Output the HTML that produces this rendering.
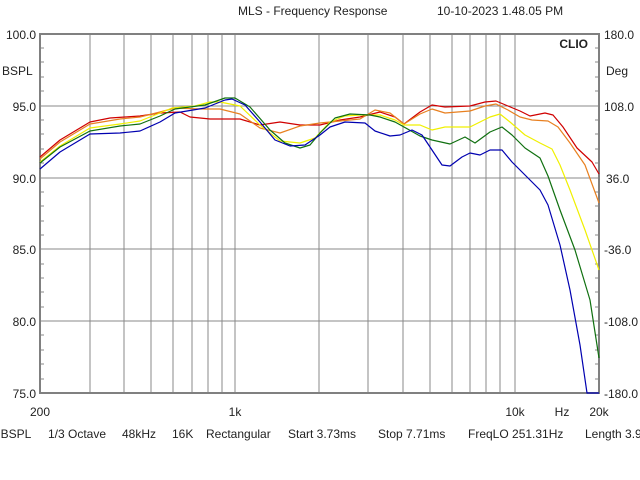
<!DOCTYPE html>
<html><head><style>body{margin:0;background:#fff}svg{display:block}text{font-family:"Liberation Sans",sans-serif;font-size:12px;fill:#222}</style></head><body>
<svg width="640" height="480" viewBox="0 0 640 480">
<g stroke="#888" stroke-width="1">
<path d="M90 34V393M124 34V393M151 34V393M173 34V393M192 34V393M208 34V393M222 34V393M235 34V393M319 34V393M368 34V393M403 34V393M430 34V393M452 34V393M470 34V393M486 34V393M500 34V393M515 34V393M40 106H599M40 178H599M40 249H599M40 321H599"/>
</g>
<g stroke="#888" stroke-width="1">
<path d="M40 48H44M40 62H44M40 77H44M40 91H44M40 120H44M40 134H44M40 149H44M40 163H44M40 192H44M40 206H44M40 221H44M40 235H44M40 264H44M40 278H44M40 292H44M40 307H44M40 335H44M40 350H44M40 364H44M40 379H44"/>
<path d="M595 48H599M595 62H599M595 77H599M595 91H599M595 120H599M595 134H599M595 149H599M595 163H599M595 192H599M595 206H599M595 221H599M595 235H599M595 264H599M595 278H599M595 292H599M595 307H599M595 335H599M595 350H599M595 364H599M595 379H599"/>
</g>
<rect x="40" y="34" width="559" height="359" fill="none" stroke="#808080" stroke-width="2"/>
<g fill="none" stroke-width="1.2" stroke-linejoin="round">
<polyline stroke="#d00000" points="40,157 60,140 90,122 110,118 125,117 140,116 160,113 180,112 190,117 210,119 240,119 260,125 280,122 300,125 320,125 340,120 360,117 380,112 395,117 404,124 420,112 432,105 445,107 470,106 485,102 496,101 508,106 520,111 530,116 545,113 553,115 563,127 577,148 592,162 599,174"/>
<polyline stroke="#e88020" points="40,159 60,142 90,124 120,119 140,117 160,112 175,108 200,109 220,109 240,114 260,128 280,133 300,126 320,123 340,121 360,119 375,110 390,113 404,124 420,114 432,109 445,113 470,111 485,106 496,104 508,110 520,117 532,120 548,121 558,127 570,143 585,165 599,203"/>
<polyline stroke="#f0f000" points="40,162 60,146 90,128 120,124 140,121 160,113 172,108 195,106 210,102 220,102 240,106 260,125 280,141 300,143 315,138 330,122 345,116 360,115 380,115 395,120 404,125 420,125 432,130 445,127 470,127 490,117 500,114 510,122 525,135 540,143 552,149 560,165 570,190 585,230 599,270"/>
<polyline stroke="#107010" points="40,163 60,147 90,131 120,126 140,124 160,116 175,109 205,105 225,98 235,98 250,107 270,130 285,143 300,148 310,145 320,133 335,118 350,114 370,115 380,117 395,122 404,127 420,136 432,140 450,144 465,137 475,143 490,132 502,127 512,135 525,148 540,158 548,176 560,210 575,250 590,300 599,358"/>
<polyline stroke="#0000b0" points="40,169 60,152 90,134 120,133 140,131 160,122 175,113 205,108 225,100 232,99 245,105 260,122 275,140 290,146 305,145 320,135 330,127 345,122 365,123 375,131 390,136 400,135 412,130 422,135 432,150 442,165 450,166 462,157 470,153 480,155 490,150 502,150 512,162 525,175 540,190 548,205 560,245 570,290 580,345 587,393 599,393"/>
</g>
<text x="238" y="15">MLS - Frequency Response</text>
<text x="437" y="15">10-10-2023 1.48.05 PM</text>
<text x="588" y="48" text-anchor="end" style="font-weight:bold;font-size:12px">CLIO</text>
<g text-anchor="end">
<text x="36" y="39">100.0</text><text x="36" y="111">95.0</text><text x="36" y="183">90.0</text><text x="36" y="254">85.0</text><text x="36" y="326">80.0</text><text x="36" y="398">75.0</text>
</g>
<text x="2" y="75">BSPL</text>
<text x="604" y="39">180.0</text><text x="606" y="75">Deg</text><text x="604" y="111">108.0</text><text x="606" y="183">36.0</text><text x="604" y="254">-36.0</text><text x="604" y="326">-108.0</text><text x="604" y="398">-180.0</text>
<g text-anchor="middle">
<text x="40" y="416">200</text><text x="235" y="416">1k</text><text x="515" y="416">10k</text><text x="562" y="416">Hz</text><text x="599" y="416">20k</text>
</g>
<g>
<text x="-6" y="438">dBSPL</text><text x="48" y="438">1/3 Octave</text><text x="122" y="438">48kHz</text><text x="172" y="438">16K</text><text x="206" y="438">Rectangular</text><text x="288" y="438">Start 3.73ms</text><text x="378" y="438">Stop 7.71ms</text><text x="468" y="438">FreqLO 251.31Hz</text><text x="585" y="438">Length 3.98ms</text>
</g>
</svg>
</body></html>
